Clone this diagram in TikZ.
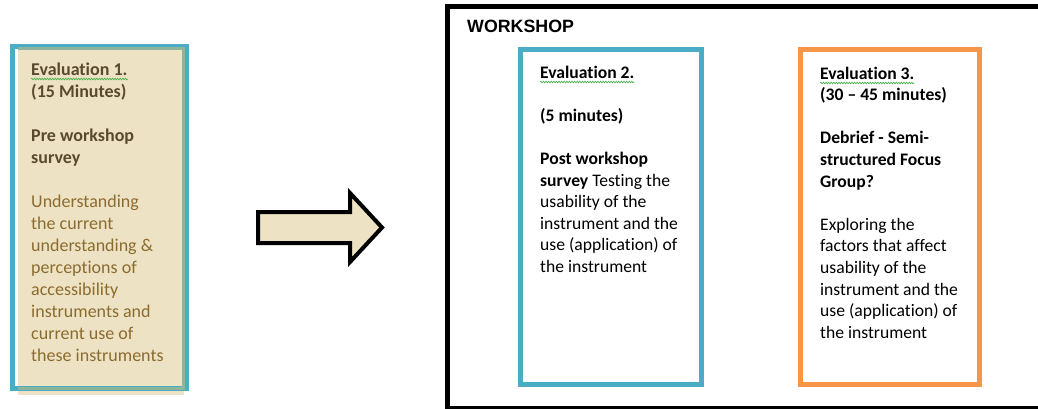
\documentclass[tikz,border=0pt]{standalone}
\usepackage{fontspec}
\setmainfont{Carlito}[Ligatures={NoCommon,TeX}]
\newfontfamily\arialfont{Liberation Sans}
\usetikzlibrary{decorations.pathmorphing}
\definecolor{evblue}{HTML}{4BACC6}
\definecolor{evorange}{HTML}{F79646}
\definecolor{evtan}{HTML}{EDE3C4}
\definecolor{evgreen}{HTML}{8DB59B}
\definecolor{headbrown}{HTML}{594A2B}
\definecolor{bodybrown}{HTML}{8B6B2E}
\definecolor{squig}{HTML}{4CB050}
\tikzset{
  txtone/.style={anchor=base west, inner sep=0pt, align=left, font=\fontsize{18}{22}\selectfont},
  txttwo/.style={anchor=base west, inner sep=0pt, align=left, font=\fontsize{17.6}{21.6}\selectfont},
  evbox/.style={draw, line width=5pt, minimum width=#1, minimum height=335pt, inner sep=0pt},
  spell/.style={squig, line width=0.7pt, decorate, decoration={snake, amplitude=0.8pt, segment length=2.6pt}},
  bigarrow/.style={draw=black, fill=evtan, line width=4pt, line join=miter},
}
\begin{document}
\begin{tikzpicture}[x=1pt,y=-1pt]
\useasboundingbox (0,0) rectangle (1038,409);
\clip (0,0) rectangle (1038,409);
% workshop frame
\draw[line width=5pt] (1060,7) -- (447.5,7) -- (447.5,408) -- (1060,408);
\node[anchor=base west, inner sep=0pt, font=\arialfont\bfseries\fontsize{17.8}{20}\selectfont] (ws) at (467,33) {WORKSHOP};
% box 1
\fill[evtan] (18,48) rectangle (184,395);
\draw[evblue, line width=5pt] (12,46.5) rectangle (186,388.5);
\draw[evgreen, line width=3pt] (18,48.5) -- (183.5,48.5) -- (183.5,388.5) -- (18,388.5);
\node[txtone] (t1) at (31,361) {\color{headbrown}\textbf{Evaluation 1.}\\
\color{headbrown}\textbf{(15 Minutes)}\\[22pt]
\color{headbrown}\textbf{Pre workshop}\\
\color{headbrown}\textbf{survey}\\[22pt]
\color{bodybrown}Understanding\\
\color{bodybrown}the current\\
\color{bodybrown}understanding \&\\
\color{bodybrown}perceptions of\\
\color{bodybrown}accessibility\\
\color{bodybrown}instruments and\\
\color{bodybrown}current use of\\
\color{bodybrown}these instruments};
\draw[spell] (31,79) -- (128,79);
% arrow
\draw[bigarrow] (258,212) -- (350,212) -- (350,193) -- (382,227.5) -- (350,262) -- (350,243) -- (258,243) -- cycle;
% box 2
\node[evbox=181pt, draw=evblue] (b2) at (611,217) {};
\node[txttwo] (t2) at (540,272.4) {\textbf{Evaluation 2.}\\[21.6pt]
\textbf{(5 minutes)}\\[21.6pt]
\textbf{Post workshop}\\
\textbf{survey} Testing the\\
usability of the\\
instrument and the\\
use (application) of\\
the instrument};
\draw[spell] (540,82) -- (634,82);
% box 3
\node[evbox=179pt, draw=evorange] (b3) at (890,217) {};
\node[txttwo] (t3) at (820,338.2) {\textbf{Evaluation 3.}\\
\textbf{(30 -- 45 minutes)}\\[21.6pt]
\textbf{Debrief - Semi-}\\
\textbf{structured Focus}\\
\textbf{Group?}\\[21.6pt]
Exploring the\\
factors that affect\\
usability of the\\
instrument and the\\
use (application) of\\
the instrument};
\draw[spell] (820,83) -- (914,83);
\end{tikzpicture}
\end{document}
